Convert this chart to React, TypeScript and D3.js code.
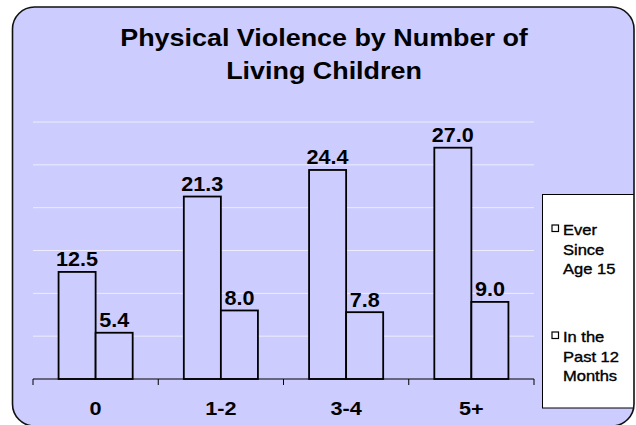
import * as d3 from 'd3';

const categories = ['0', '1-2', '3-4', '5+'];
const seriesNames = ['Ever Since Age 15', 'In the Past 12 Months'];
const everSince15 = [12.5, 21.3, 24.4, 27.0];
const past12Months = [5.4, 8.0, 7.8, 9.0];
const legendLines = [['Ever', 'Since', 'Age 15'], ['In the', 'Past 12', 'Months']];
const titleLines = ['Physical Violence by Number of', 'Living Children'];
const gridValues = [5, 10, 15, 20, 25, 30];

const width = 636;
const height = 425;
const font = 'Liberation Sans, Arial, Helvetica, sans-serif';
const bg = '#CCCCFF';

export default function App() {
  const plotLeft = 33;
  const plotRight = 534;
  const baseY = 379;

  const x0 = d3.scaleBand<string>().domain(categories).range([plotLeft, plotRight]).padding(0);
  const x1 = d3
    .scaleBand<string>()
    .domain(seriesNames)
    .range([0, x0.bandwidth()])
    .paddingInner(0)
    .paddingOuter(0.69);
  const y = d3.scaleLinear().domain([0, 30]).range([baseY, 122]);

  const rows = categories.map((c, i) => ({ cat: c, values: [everSince15[i], past12Months[i]] }));
  const tickXs = [...categories.map((c) => x0(c) as number), plotRight];

  return (
    <svg width={width} height={height} style={{ position: 'absolute', left: 0, top: 0 }}>
      <defs>
        <clipPath id="frameClip">
          <rect x={12.5} y={7} width={621.5} height={419} rx={22} ry={22} />
        </clipPath>
      </defs>
      <rect x={0} y={0} width={width} height={height} fill="#ffffff" />
      <rect x={12.5} y={7} width={621.5} height={419} rx={22} ry={22} fill={bg} />

      {/* title */}
      {titleLines.map((t, i) => (
        <text
          key={t}
          transform={`translate(324,${46 + i * 33}) scale(1.17,1)`}
          textAnchor="middle"
          fontFamily={font}
          fontWeight="bold"
          fontSize={23}
          fill="#000"
        >
          {t}
        </text>
      ))}

      {/* gridlines */}
      {gridValues.map((v) => (
        <line key={v} x1={plotLeft} x2={plotRight} y1={y(v)} y2={y(v)} stroke="#EDEDFF" strokeWidth={1} />
      ))}

      {/* bars */}
      {rows.map((r) => (
        <g key={r.cat} transform={`translate(${x0(r.cat)},0)`}>
          {r.values.map((v, j) => {
            const bx = x1(seriesNames[j]) as number;
            const bw = x1.bandwidth();
            return (
              <g key={j}>
                <rect x={bx} y={y(v)} width={bw} height={baseY - y(v)} fill={bg} stroke="#000" strokeWidth={1.8} />
                <text
                  transform={`translate(${bx + bw / 2},${y(v) - 5.5}) scale(1.08,1)`}
                  textAnchor="middle"
                  fontFamily={font}
                  fontWeight="bold"
                  fontSize={20}
                  fill="#000"
                >
                  {v.toFixed(1)}
                </text>
              </g>
            );
          })}
        </g>
      ))}

      {/* x axis */}
      <line x1={plotLeft} x2={plotRight} y1={baseY} y2={baseY} stroke="#000" strokeWidth={1.2} />
      {tickXs.map((tx, i) => (
        <line key={i} x1={tx} x2={tx} y1={baseY} y2={baseY + 6} stroke="#000" strokeWidth={1} />
      ))}
      {categories.map((c) => (
        <text
          key={c}
          transform={`translate(${(x0(c) as number) + x0.bandwidth() / 2},415) scale(1.14,1)`}
          textAnchor="middle"
          fontFamily={font}
          fontWeight="bold"
          fontSize={19}
          fill="#000"
        >
          {c}
        </text>
      ))}

      {/* legend */}
      <g clipPath="url(#frameClip)">
        <rect x={542.5} y={194.5} width={110} height={213.5} fill="#ffffff" stroke="#000" strokeWidth={1} />
        {legendLines.map((lines, i) => {
          const top = i === 0 ? 235 : 342;
          return (
            <g key={i}>
              <rect x={552} y={top - 10} width={6.5} height={6.5} fill="#ffffff" stroke="#000" strokeWidth={1.2} />
              {lines.map((ln, k) => (
                <text
                  key={k}
                  transform={`translate(563,${top + k * 19.5}) scale(1.18,1)`}
                  fontFamily={font}
                  fontSize={14}
                  fill="#000"
                  stroke="#000"
                  strokeWidth={0.35}
                >
                  {ln}
                </text>
              ))}
            </g>
          );
        })}
      </g>

      {/* frame border */}
      <rect x={12.5} y={7} width={621.5} height={419} rx={22} ry={22} fill="none" stroke="#111" strokeWidth={1.6} />
    </svg>
  );
}
